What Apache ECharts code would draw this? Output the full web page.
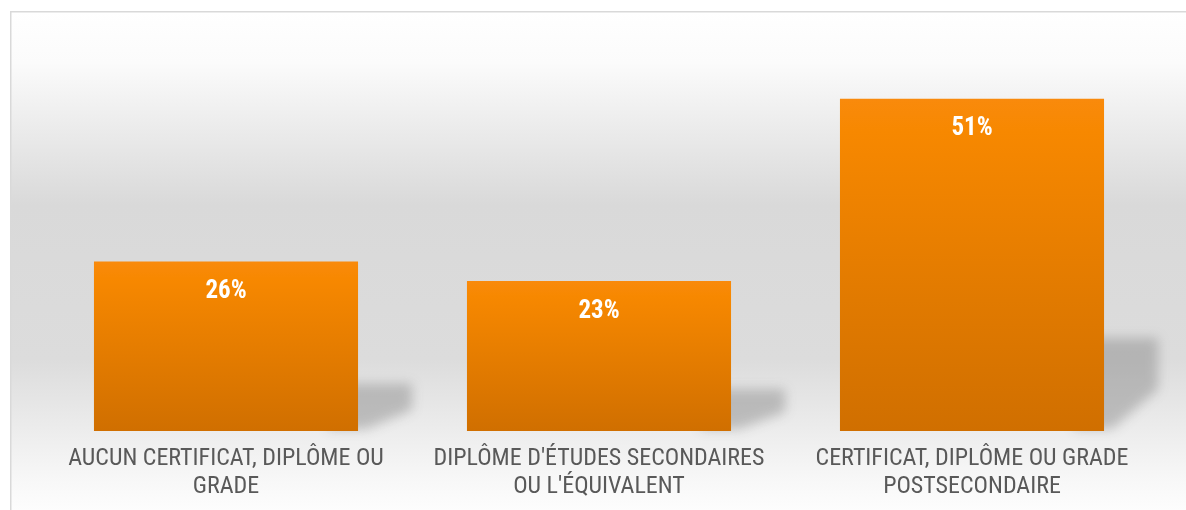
<!DOCTYPE html>
<html>
<head>
<meta charset="utf-8">
<script src="https://cdn.jsdelivr.net/npm/echarts@6/dist/echarts.min.js"></script>
<style>
html, body { margin: 0; padding: 0; background: #fff; }
#chart { width: 1186px; height: 510px; }
</style>
</head>
<body>
<div id="chart"></div>
<script>
var categories = [
	'AUCUN CERTIFICAT, DIPLÔME OU\nGRADE',
	"DIPLÔME D'ÉTUDES SECONDAIRES\nOU L'ÉQUIVALENT",
	'CERTIFICAT, DIPLÔME OU GRADE\nPOSTSECONDAIRE'
];
var values = [26, 23, 51];

var narrow = '"Roboto Condensed", "Liberation Sans", sans-serif';

var myChart = echarts.init(document.getElementById('chart'));

// ombre portée floue : la forme est dessinée hors écran, seule son ombre revient
var OFF = 3000;
var shadowItem = function (params, api) {
	var base = api.coord([api.value(0), 0]);
	var top = api.coord([api.value(0), api.value(1)]);
	var w = api.size([1, 0])[0] * 0.708;
	var h = (base[1] - top[1]) * 0.28;
	var x2 = base[0] + w / 2 - OFF;
	var y0 = base[1];
	return {
		type: 'polygon',
		shape: { points: [[x2 - 30, y0 - 2], [x2 - 30, y0 - h], [x2 + 54, y0 - h], [x2 + 54, y0 - h * 0.45], [x2 + 8, y0 - 2]] },
		style: { fill: '#000', shadowBlur: 12, shadowColor: 'rgba(130,130,130,0.45)', shadowOffsetX: OFF }
	};
};

option = {
	animation: false,
	graphic: [{
		type: 'rect',
		left: 10, top: 11,
		shape: { width: 1190, height: 510 },
		style: {
			fill: new echarts.graphic.LinearGradient(0, 0, 0, 1, [
				{ offset: 0, color: '#ffffff' },
				{ offset: 0.1, color: '#fbfbfb' },
				{ offset: 0.38, color: '#d9d9d9' },
				{ offset: 0.68, color: '#dcdcdc' },
				{ offset: 0.92, color: '#f8f8f8' },
				{ offset: 1, color: '#ffffff' }
			]),
			stroke: '#d9d9d9',
			lineWidth: 1.5
		},
		z: -10
	}],
	grid: { left: 39.5, right: 27.5, top: 40, bottom: 79 },
	xAxis: {
		type: 'category',
		data: categories,
		axisLine: { show: false },
		axisTick: { show: false },
		axisLabel: {
			interval: 0,
			margin: 14,
			color: '#595959',
			fontSize: 24,
			lineHeight: 28,
			fontFamily: narrow
		}
	},
	yAxis: {
		type: 'value',
		min: 0,
		max: 60,
		show: false,
		splitLine: { show: false }
	},
	series: [{
		type: 'custom',
		renderItem: shadowItem,
		clip: false,
		data: values.map(function (v, i) { return [i, v]; }),
		z: 1,
		silent: true
	}, {
		type: 'bar',
		data: values,
		barWidth: '70.8%',
		z: 2,
		itemStyle: {
			color: new echarts.graphic.LinearGradient(0, 0, 0, 1, [
				{ offset: 0, color: '#f98a0c' },
				{ offset: 0.1, color: '#f78800' },
				{ offset: 1, color: '#d06f00' }
			])
		},
		label: {
			show: true,
			position: 'insideTop',
			distance: 18,
			formatter: '{c}%',
			color: '#ffffff',
			fontWeight: 'bold',
			fontSize: 25,
			fontFamily: narrow
		}
	}]
};

myChart.setOption(option);
</script>
</body>
</html>
